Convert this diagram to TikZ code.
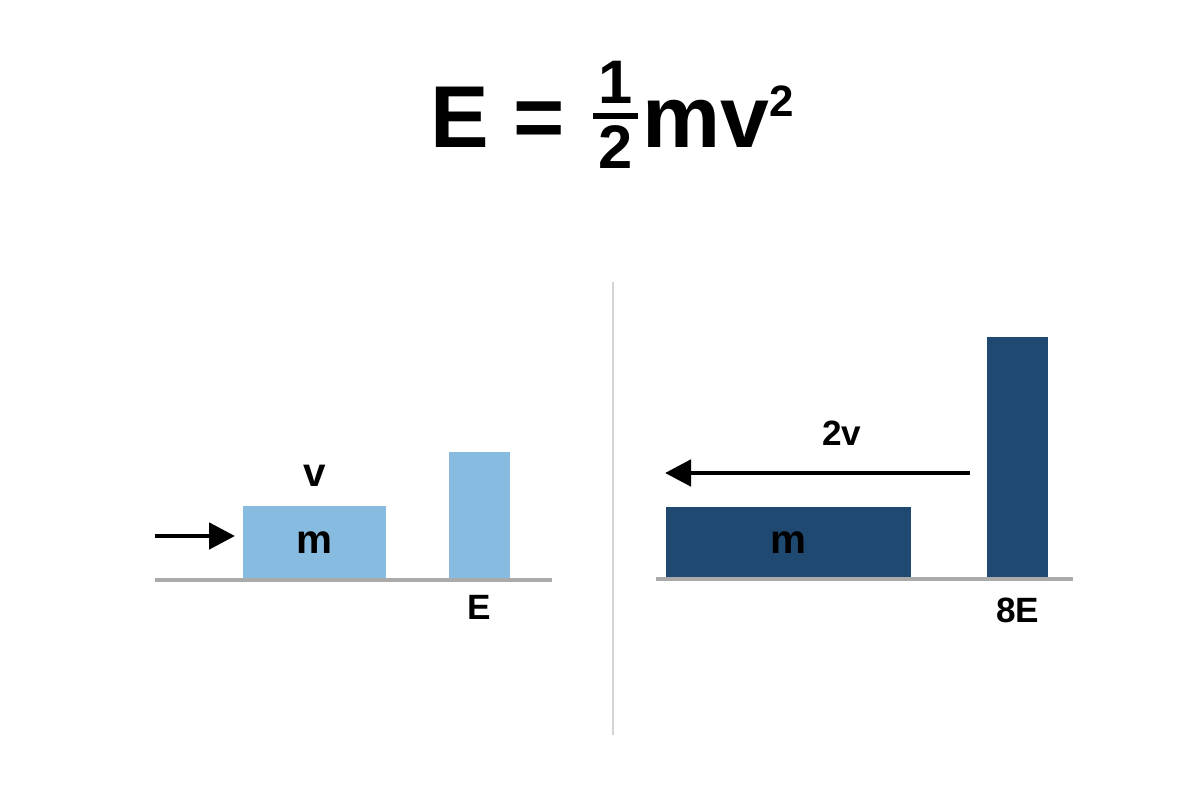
\documentclass[tikz,border=0pt]{standalone}
\usepackage{amsmath}
\usepackage{fontspec}
\setmainfont{Liberation Sans}
\usetikzlibrary{arrows.meta,positioning}
\definecolor{lightblock}{RGB}{135,187,223}
\definecolor{darkblock}{RGB}{31,73,113}
\definecolor{groundgray}{RGB}{170,170,170}
\definecolor{dividergray}{RGB}{212,212,212}

\begin{document}
\begin{tikzpicture}[
    block/.style={rectangle, inner sep=0pt, outer sep=0pt, anchor=south, font=\fontsize{11.5}{13}\selectfont\bfseries},
    lbl/.style={inner sep=0pt, font=\fontsize{10}{12}\selectfont\bfseries},
    ground/.style={line width=1.1pt, groundgray},
    divider/.style={line width=0.6pt, dividergray},
    arr/.style={-{Triangle[length=0.26cm, width=0.26cm]}, line width=1.4pt}
]
\useasboundingbox (0,0) rectangle (12,8);

\node[anchor=base, inner sep=0pt, font=\fontsize{25}{30}\selectfont\bfseries] (formula) at (6.13,6.52)
    {E = \raisebox{0.1cm}{$\genfrac{}{}{1.5pt}{1}{\textbf{1}}{\kern1.5pt\textbf{2}\kern1.5pt}$}mv$^{\scriptscriptstyle\textbf{2}}$};

\node[block, fill=lightblock, minimum width=1.43cm, minimum height=0.74cm] (lblock) at (3.145,2.20) {m};
\node[block, fill=lightblock, minimum width=0.61cm, minimum height=1.28cm] (lbar) at (4.795,2.20) {};
\node[lbl, font=\fontsize{11.5}{13}\selectfont\bfseries, above=0.19cm of lblock] (lspeed) {v};
\node[lbl, below=0.15cm of lbar] (lenergy) {E};

\node[block, fill=darkblock, minimum width=2.45cm, minimum height=0.72cm] (rblock) at (7.885,2.21) {m};
\node[block, fill=darkblock, minimum width=0.61cm, minimum height=2.42cm] (rbar) at (10.175,2.21) {};
\node[lbl, below=0.18cm of rbar] (renergy) {8E};

\coordinate (lg1) at (1.55,2.20);
\coordinate (lg2) at (5.52,2.20);
\coordinate (rg1) at (6.56,2.21);
\coordinate (rg2) at (10.73,2.21);
\draw[ground] (lg1) -- (lg2);
\draw[ground] (rg1) -- (rg2);

\coordinate (dtop) at (6.13,5.18);
\coordinate (dbot) at (6.13,0.65);
\draw[divider] (dtop) -- (dbot);

\coordinate (lstart) at (1.55,2.64);
\coordinate (lend) at (2.35,2.64);
\draw[arr] (lstart) -- (lend);

\coordinate (rstart) at (9.70,3.27);
\coordinate (rend) at (6.65,3.27);
\draw[arr] (rstart) -- node[lbl, above=0.25cm, pos=0.42] (rspeed) {2v} (rend);
\end{tikzpicture}
\end{document}
